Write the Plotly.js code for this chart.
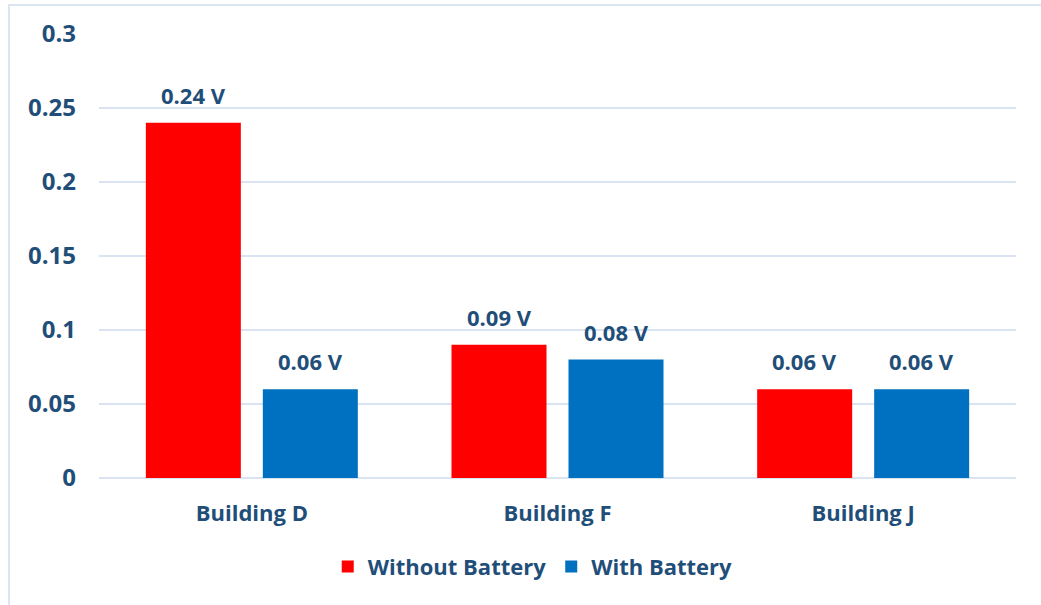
<!DOCTYPE html>
<html>
<head>
<meta charset="utf-8">
<script src="https://cdn.plot.ly/plotly-3.0.1.min.js"></script>
<style>
  html, body { margin: 0; padding: 0; background: #ffffff; }
  #frame { position: absolute; left: 8px; top: 4px; width: 1100px; height: 700px;
           border-left: 2px solid #dce6f2; border-top: 2px solid #dce6f2; }
  #chart { position: absolute; left: 0; top: 0; width: 1041px; height: 605px; }
</style>
</head>
<body>
<div id="frame"></div>
<div id="chart"></div>
<script>
const categories = ["Building D", "Building F", "Building J"];
const withoutBattery = [0.24, 0.09, 0.06];
const withBattery = [0.06, 0.08, 0.06];
const seriesNames = ["Without Battery", "With Battery"];
const yTickVals = [0, 0.05, 0.1, 0.15, 0.2, 0.25, 0.3];
const yTickText = ["0", "0.05", "0.1", "0.15", "0.2", "0.25", "0.3"];

const textColor = "#1f4e79";
const fontFam = "'Open Sans', 'Noto Sans', sans-serif";

const traces = [
  { type: "bar", name: seriesNames[0], x: categories, y: withoutBattery,
    marker: { color: "#ff0000" }, hoverinfo: "skip" },
  { type: "bar", name: seriesNames[1], x: categories, y: withBattery,
    marker: { color: "#0070c0" }, hoverinfo: "skip" }
];

const annotations = [];
[withoutBattery, withBattery].forEach((vals, si) => {
  vals.forEach((v, i) => {
    annotations.push({
      x: categories[i], y: v, xref: "x", yref: "y",
      text: v + " V", showarrow: false,
      xshift: si === 0 ? -58.5 : 58.5, yshift: 11,
      yanchor: "bottom", xanchor: "center",
      font: { family: fontFam, size: 22, color: textColor, weight: "bold" }
    });
  });
});

const layout = {
  width: 1041, height: 605,
  margin: { l: 99, r: 25, t: 34, b: 127 },
  paper_bgcolor: "rgba(0,0,0,0)", plot_bgcolor: "rgba(0,0,0,0)",
  font: { family: fontFam, color: textColor, size: 22, weight: "bold" },
  barmode: "group", bargap: 0.2345, bargroupgap: 0.188,
  showlegend: true,
  legend: { orientation: "h", x: 0.473, xanchor: "center", y: -0.2, yanchor: "middle",
            font: { family: fontFam, size: 22, color: textColor, weight: "bold" },
            traceorder: "normal" },
  annotations: annotations,
  xaxis: { type: "category", showgrid: false, zeroline: false, showline: false,
           ticks: "", ticklabelstandoff: 20,
           tickfont: { family: fontFam, size: 22, color: textColor, weight: "bold" } },
  yaxis: { range: [0, 0.3], tickvals: yTickVals, ticktext: yTickText,
           showgrid: true, gridcolor: "#d9e3f1", gridwidth: 2,
           zeroline: true, zerolinecolor: "#d9e3f1", zerolinewidth: 2,
           showline: false, ticks: "", ticklabelstandoff: 22,
           tickfont: { family: fontFam, size: 24, color: textColor, weight: "bold" } }
};

Plotly.newPlot("chart", traces, layout, { displayModeBar: false, staticPlot: true });
</script>
</body>
</html>
